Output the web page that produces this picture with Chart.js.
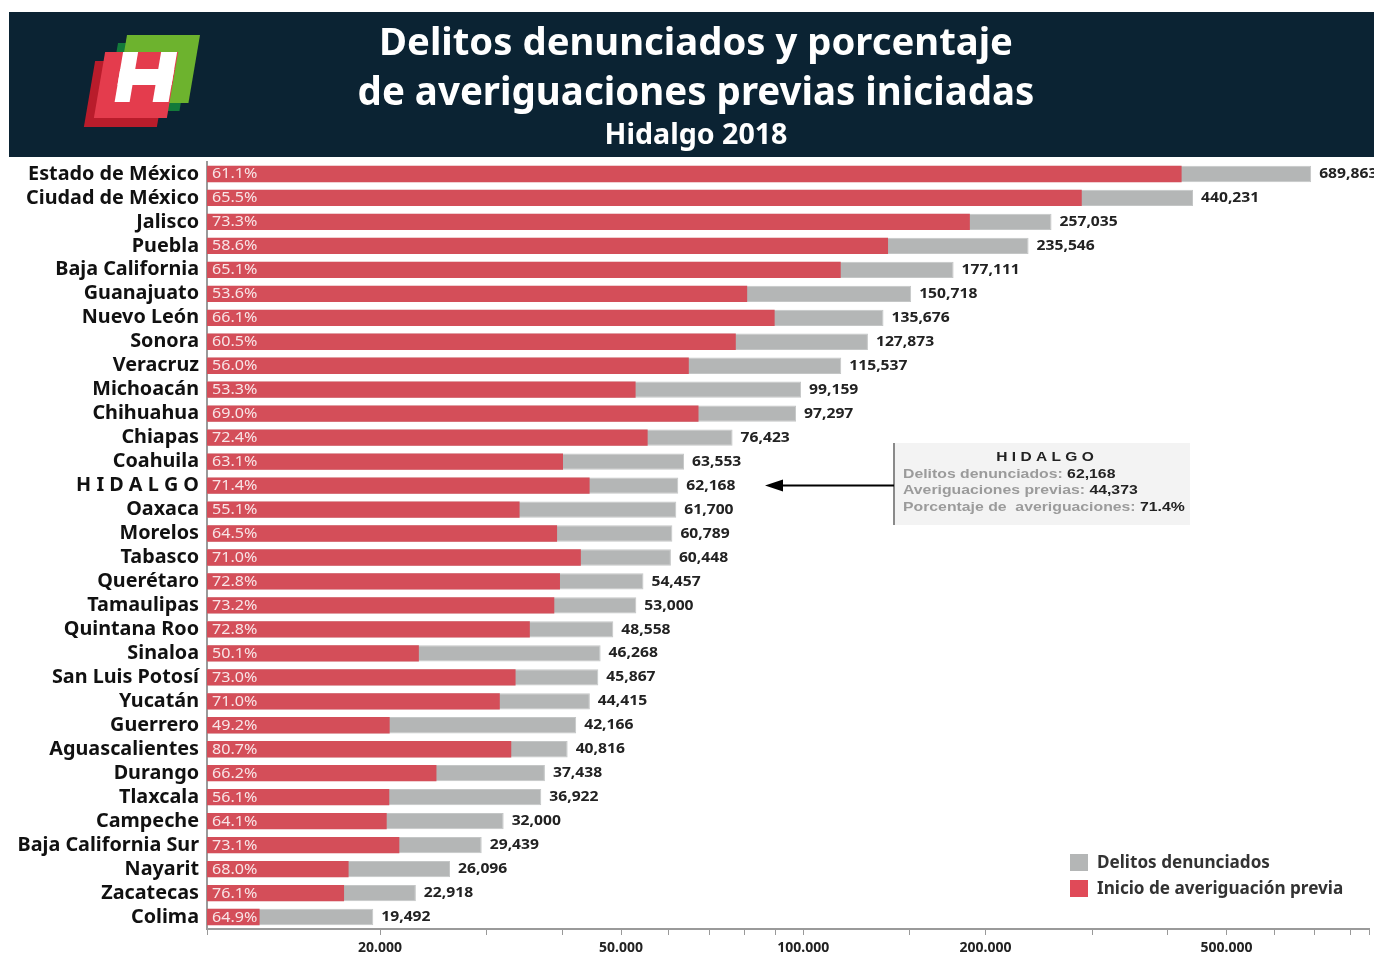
<!DOCTYPE html>
<html>
<head>
<meta charset="utf-8">
<script src="https://cdn.jsdelivr.net/npm/chart.js@4.4.1/dist/chart.umd.min.js"></script>
<style>
  body { margin: 0; background: #fff; }
  #wrap { width: 1374px; height: 953px; position: relative; }
</style>
</head>
<body>
<div id="wrap"><canvas id="myChart"></canvas></div>
<script>
const estados = ["Estado de México", "Ciudad de México", "Jalisco", "Puebla", "Baja California",
  "Guanajuato", "Nuevo León", "Sonora", "Veracruz", "Michoacán", "Chihuahua", "Chiapas",
  "Coahuila", "H I D A L G O", "Oaxaca", "Morelos", "Tabasco", "Querétaro", "Tamaulipas",
  "Quintana Roo", "Sinaloa", "San Luis Potosí", "Yucatán", "Guerrero", "Aguascalientes",
  "Durango", "Tlaxcala", "Campeche", "Baja California Sur", "Nayarit", "Zacatecas", "Colima"];
const delitos = [689863, 440231, 257035, 235546, 177111, 150718, 135676, 127873, 115537, 99159,
  97297, 76423, 63553, 62168, 61700, 60789, 60448, 54457, 53000, 48558, 46268, 45867, 44415,
  42166, 40816, 37438, 36922, 32000, 29439, 26096, 22918, 19492];
const averiguaciones = [421506, 288351, 188407, 138030, 115299, 80785, 89682, 77363, 64701, 52852,
  67135, 55330, 40102, 44373, 33997, 39209, 42918, 39645, 38796, 35350, 23180, 33483, 31535,
  20746, 32938, 24784, 20713, 20512, 21520, 17745, 17441, 12650];
const porcentajes = ["61.1%", "65.5%", "73.3%", "58.6%", "65.1%", "53.6%", "66.1%", "60.5%", "56.0%",
  "53.3%", "69.0%", "72.4%", "63.1%", "71.4%", "55.1%", "64.5%", "71.0%", "72.8%", "73.2%", "72.8%",
  "50.1%", "73.0%", "71.0%", "49.2%", "80.7%", "66.2%", "56.1%", "64.1%", "73.1%", "68.0%", "76.1%", "64.9%"];
const ticksEje = [20000, 50000, 100000, 200000, 500000];

const GRIS = "#b4b6b6";
const ROJO = "#d44e59";
const NAVY = "#0b2333";

function miles(v, sep) {
  return String(Math.round(v)).replace(/\B(?=(\d{3})+(?!\d))/g, sep);
}

// fit a font size so the text gets a given width
const mctx = document.createElement('canvas').getContext('2d');
function fitSize(text, width, weight, family) {
  mctx.font = weight + ' 100px ' + family;
  return 100 * width / mctx.measureText(text).width;
}
const FAM = '"Noto Sans", "Open Sans", sans-serif';
const AR = '"Liberation Sans", Arial, sans-serif';
const labelSize = fitSize("Estado de México", 171, 'bold', FAM);

// text stretched sideways (the original font is wider)
function textW(c, txt, x, y, sx) {
  c.save();
  c.translate(x, y);
  c.scale(sx, 1);
  c.fillText(txt, 0, 0);
  c.restore();
  return c.measureText(txt).width * sx;
}

function drawLogo(c) {
  c.save();
  const shape = (u0, v0, u1, v1, du, dv, col) => {
    c.setTransform(1, 0, -0.17, 1, 127 + du, 35 + dv);
    c.fillStyle = col;
    c.fillRect(u0, v0, u1 - u0, v1 - v0);
  };
  shape(0, 0, 73, 68, -9, 8, "#137a3a");
  shape(0, 0, 73, 68, 0, 0, "#6db32e");
  shape(-19, 17, 54, 83, -10, 9, "#b91c2b");
  shape(-19, 17, 54, 83, 0, 0, "#e43c4d");
  c.setTransform(1, 0, -0.17, 1, 127, 35);
  c.fillStyle = "#ffffff";
  c.fillRect(-1, 17, 15, 50);
  c.fillRect(37, 17, 16, 50);
  c.fillRect(-1, 34, 54, 16);
  c.restore();
}

const decor = {
  id: 'decor',
  beforeDraw(chart) {
    const c = chart.ctx;
    c.save();
    c.fillStyle = NAVY;
    c.fillRect(9, 12, 1365, 145);
    drawLogo(c);
    c.fillStyle = "#ffffff";
    c.textAlign = 'center';
    c.textBaseline = 'middle';
    const t1 = "Delitos denunciados y porcentaje";
    const t2 = "de averiguaciones previas iniciadas";
    const t3 = "Hidalgo 2018";
    c.font = 'bold ' + fitSize(t1, 634, 'bold', FAM) + 'px ' + FAM;
    c.fillText(t1, 696, 44);
    c.font = 'bold ' + fitSize(t2, 677, 'bold', FAM) + 'px ' + FAM;
    c.fillText(t2, 696, 94);
    c.font = 'bold ' + fitSize(t3, 183, 'bold', FAM) + 'px ' + FAM;
    c.fillText(t3, 696, 136);
    c.restore();
  },
  afterDatasetsDraw(chart) {
    const c = chart.ctx;
    const rojo = chart.getDatasetMeta(0).data;
    const gris = chart.getDatasetMeta(1).data;
    c.save();
    c.textBaseline = 'middle';
    c.textAlign = 'left';
    c.font = '14px ' + FAM;
    c.fillStyle = "#f8e4e6";
    rojo.forEach((el, i) => textW(c, porcentajes[i], el.base + 5, el.y + 0.5, 1.15));
    c.font = 'bold 14.5px ' + FAM;
    c.fillStyle = "#222222";
    gris.forEach((el, i) => textW(c, miles(delitos[i], ','), el.x + 8, el.y, 1.08));

    // Hidalgo note
    const yh = gris[13].y;
    c.fillStyle = "#f3f3f3";
    c.fillRect(893, 443, 297, 82);
    c.strokeStyle = "#8a8a8a";
    c.lineWidth = 2;
    c.beginPath(); c.moveTo(894, 443); c.lineTo(894, 525); c.stroke();
    c.strokeStyle = "#000000";
    c.beginPath(); c.moveTo(894, yh); c.lineTo(780, yh); c.stroke();
    c.fillStyle = "#000000";
    c.beginPath(); c.moveTo(765, yh); c.lineTo(783, yh - 6); c.lineTo(783, yh + 6); c.closePath(); c.fill();

    c.font = 'bold 13.5px ' + AR;
    c.fillStyle = "#222222";
    const hid = "H I D A L G O";
    const hw = c.measureText(hid).width * 1.15;
    textW(c, hid, 1045 - hw / 2, 457, 1.15);
    const filas = [["Delitos denunciados: ", "62,168"], ["Averiguaciones previas: ", "44,373"],
      ["Porcentaje de  averiguaciones: ", "71.4%"]];
    filas.forEach((f, k) => {
      const y = 474 + k * 16.5;
      c.font = 'bold 13.5px ' + AR;
      c.fillStyle = "#9b9b9b";
      const w = textW(c, f[0], 903, y, 1.17);
      c.fillStyle = "#222222";
      textW(c, f[1], 903 + w, y, 1.17);
    });

    // legend
    c.fillStyle = GRIS;
    c.fillRect(1070, 854, 18, 17);
    c.fillStyle = "#e04a58";
    c.fillRect(1070, 880, 18, 17);
    const ls = fitSize("Delitos denunciados", 173, 'bold', FAM);
    c.font = 'bold ' + ls + 'px ' + FAM;
    c.fillStyle = "#333333";
    c.fillText("Delitos denunciados", 1097, 863);
    c.fillText("Inicio de averiguación previa", 1097, 889);
    c.restore();
  }
};

new Chart(document.getElementById('myChart'), {
  type: 'bar',
  data: {
    labels: estados,
    datasets: [
      {
        label: "Inicio de averiguación previa",
        data: averiguaciones,
        backgroundColor: ROJO,
        grouped: false,
        barPercentage: 0.68,
        categoryPercentage: 1
      },
      {
        label: "Delitos denunciados",
        data: delitos,
        backgroundColor: GRIS,
        borderColor: "#c4c6c6",
        borderWidth: 1,
        grouped: false,
        barPercentage: 0.68,
        categoryPercentage: 1
      }
    ]
  },
  options: {
    indexAxis: 'y',
    responsive: true,
    maintainAspectRatio: false,
    animation: false,
    layout: { padding: { top: 162, left: 0, right: 0, bottom: 0 } },
    plugins: {
      legend: { display: false },
      tooltip: { enabled: false }
    },
    scales: {
      x: {
        type: 'logarithmic',
        min: 10357,
        max: 859600,
        afterFit: (s) => { s.height = 24; },
        grid: { drawOnChartArea: false, tickLength: 6, color: "#999999" },
        border: { color: "#9a9a9a", width: 2 },
        ticks: {
          autoSkip: false,
          maxRotation: 0,
          padding: 5,
          color: "#222222",
          font: { family: FAM, size: 14, weight: 'bold' },
          callback: (v) => ticksEje.includes(Math.round(v)) ? miles(v, '.') : ''
        }
      },
      y: {
        afterFit: (s) => { s.width = 207; },
        grid: { display: false, drawTicks: false },
        border: { color: "#9a9a9a", width: 2 },
        ticks: {
          autoSkip: false,
          padding: 8,
          color: "#111111",
          font: { family: FAM, size: labelSize, weight: 'bold' }
        }
      }
    }
  },
  plugins: [decor]
});
</script>
</body>
</html>
